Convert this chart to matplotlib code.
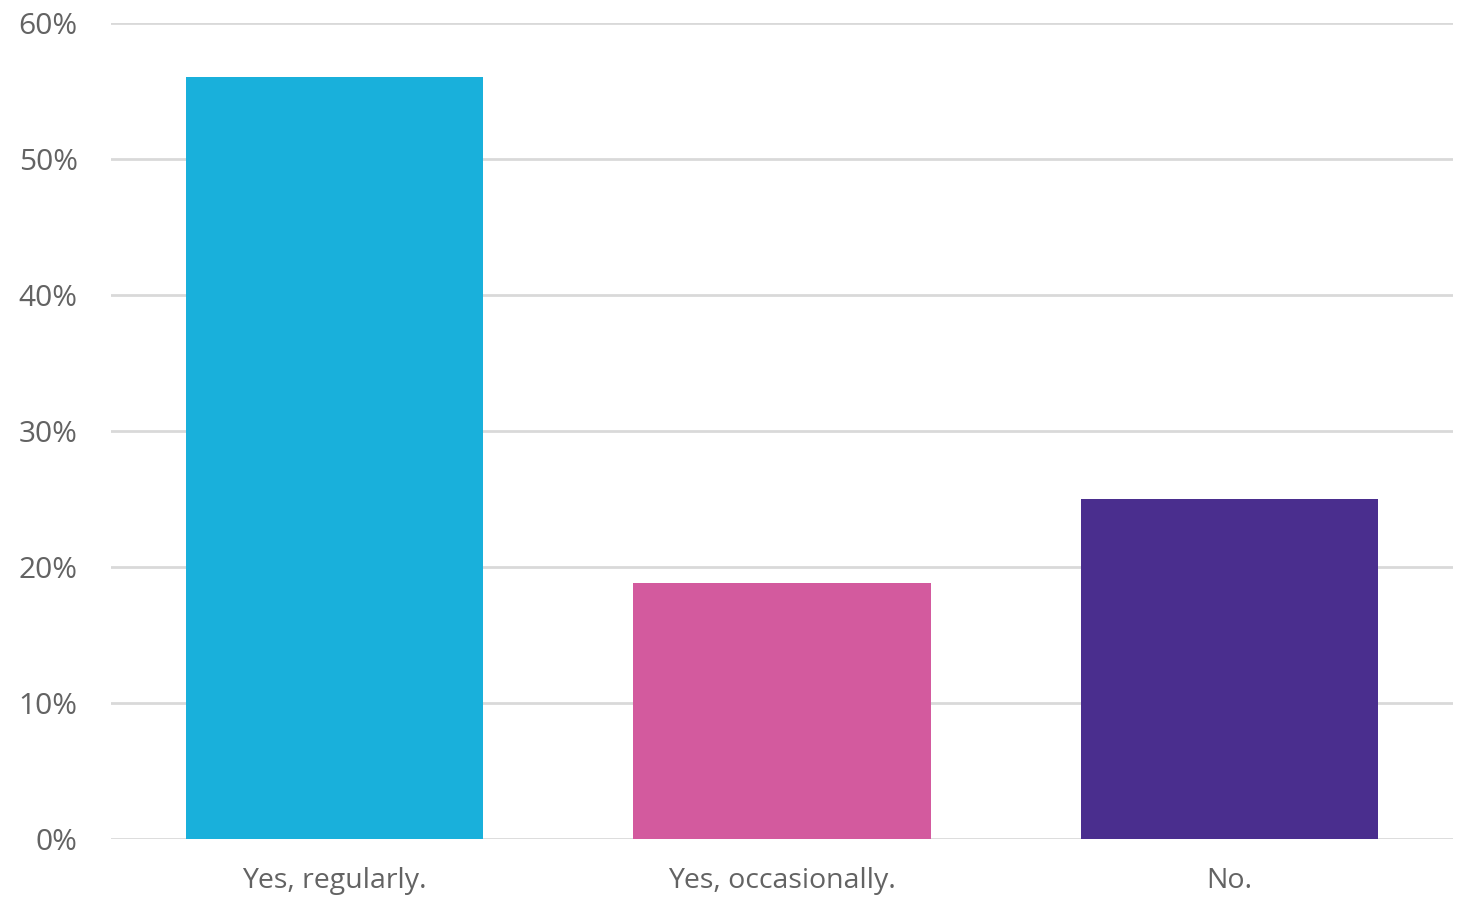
import numpy as np
import matplotlib.pyplot as plt
from matplotlib.ticker import PercentFormatter

## Data
categories = ['Yes, regularly.', 'Yes, occasionally.', 'No.']
values = [56.0, 18.8, 25.0]
bar_colors = ['#19b0db', '#d35a9e', '#4a2e8e']

plt.rcParams['font.family'] = ['Open Sans', 'DejaVu Sans']

fig = plt.figure(figsize=(14.62, 8.99), dpi=100)
ax = fig.add_axes([0.0759, 0.0667, 0.9179, 0.9077])

x = np.arange(len(categories))
ax.bar(x, values, width=0.665, color=bar_colors, zorder=3)

ax.set_xlim(-0.5, 2.5)
ax.set_ylim(0, 60)
ax.set_yticks(np.arange(0, 61, 10))
ax.yaxis.set_major_formatter(PercentFormatter(decimals=0))
ax.set_xticks(x)
ax.set_xticklabels(categories)

ax.grid(axis='y', color='#d9d9d9', linewidth=2, zorder=0)
for s in ax.spines.values():
    s.set_visible(False)
ax.tick_params(axis='y', length=0, labelsize=21.5, labelcolor='#636363', pad=24)
ax.tick_params(axis='x', length=0, labelsize=20.5, labelcolor='#636363', pad=20)

fig.savefig('out.png', dpi=100)
